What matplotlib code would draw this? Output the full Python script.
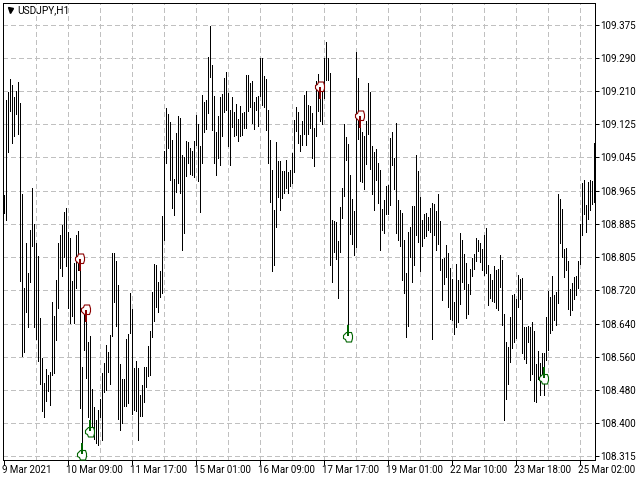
import matplotlib
matplotlib.use("Agg")
import matplotlib.pyplot as plt
from matplotlib.path import Path
from matplotlib.transforms import ScaledTranslation

highs = [
108.956,109.190,109.209,109.241,109.226,109.197,109.212,109.234,109.182,108.959,
108.728,108.839,108.765,108.871,108.974,108.885,108.839,108.807,108.655,108.556,
108.495,108.529,108.515,108.522,108.694,108.660,108.748,108.839,108.858,108.883,
108.915,108.925,108.866,108.851,108.745,108.790,108.858,108.868,108.792,108.534,
108.662,108.650,108.596,108.610,108.480,108.436,108.404,108.429,108.456,108.520,
108.544,108.588,108.571,108.613,108.814,108.814,108.795,108.736,108.542,108.505,
108.505,108.603,108.615,108.716,108.677,108.532,108.549,108.532,108.466,108.490,
108.534,108.534,108.586,108.623,108.718,108.787,108.785,108.743,108.770,108.905,
109.064,109.170,109.155,109.136,109.091,108.996,109.109,109.150,109.145,109.055,
109.050,109.089,109.087,109.072,109.064,109.089,109.153,109.131,109.077,109.202,
109.185,109.190,109.295,109.371,109.276,109.199,109.111,109.150,109.197,109.204,
109.244,109.258,109.207,109.165,109.197,109.160,109.180,109.143,109.175,109.158,
109.160,109.251,109.251,109.231,109.236,109.185,109.197,109.199,109.293,109.293,
109.248,109.241,109.165,109.091,109.018,108.920,109.087,109.040,109.040,109.015,
109.015,109.042,109.013,109.018,109.060,109.141,109.172,109.160,109.104,109.138,
109.202,109.212,109.177,109.175,109.158,109.121,109.236,109.253,109.202,109.226,
109.293,109.332,109.293,109.256,108.895,108.893,108.890,108.844,108.927,108.974,
109.131,109.099,109.082,109.006,108.947,108.917,109.307,109.244,109.153,109.111,
109.101,109.138,109.231,109.209,109.077,109.062,109.069,109.035,109.018,108.922,
108.944,108.979,108.981,109.096,109.111,109.047,109.133,108.944,108.920,108.912,
108.846,108.765,108.866,108.878,108.929,108.929,109.055,109.015,108.952,108.895,
108.910,108.912,108.902,108.925,108.937,108.934,108.917,108.959,108.893,108.799,
108.802,108.834,108.814,108.777,108.750,108.694,108.787,108.748,108.863,108.846,
108.812,108.790,108.738,108.775,108.802,108.812,108.851,108.846,108.839,108.824,
108.858,108.875,108.785,108.763,108.748,108.782,108.772,108.775,108.809,108.797,
108.664,108.596,108.583,108.657,108.711,108.714,108.701,108.760,108.750,108.753,
108.633,108.633,108.635,108.633,108.645,108.623,108.542,108.574,108.544,108.569,
108.569,108.657,108.721,108.706,108.758,108.711,108.718,108.959,108.947,108.922,
108.824,108.826,108.795,108.726,108.740,108.755,108.758,108.795,108.885,108.986,
108.993,108.932,108.988,108.993,108.991,109.084,
]
lows = [
108.912,108.895,109.062,109.163,109.084,109.101,109.155,109.106,108.745,108.561,
108.571,108.669,108.633,108.743,108.831,108.633,108.603,108.549,108.493,108.426,
108.412,108.451,108.475,108.441,108.515,108.520,108.601,108.679,108.777,108.758,
108.804,108.782,108.679,108.642,108.660,108.642,108.728,108.772,108.434,108.343,
108.576,108.507,108.412,108.404,108.372,108.358,108.348,108.343,108.412,108.355,
108.473,108.478,108.522,108.493,108.610,108.694,108.635,108.407,108.380,108.397,
108.439,108.439,108.446,108.618,108.419,108.429,108.426,108.355,108.414,108.414,
108.448,108.485,108.512,108.515,108.608,108.647,108.682,108.669,108.706,108.716,
108.846,109.035,109.072,108.993,108.925,108.907,108.964,108.986,108.961,108.821,
108.863,109.003,109.035,109.008,109.006,109.001,109.079,108.991,108.915,109.035,
109.111,109.118,109.158,109.246,109.116,109.035,109.006,109.047,109.030,109.101,
109.160,109.165,109.077,109.030,109.123,109.101,109.104,109.089,109.101,109.104,
109.121,109.121,109.163,109.172,109.133,109.118,109.165,109.126,109.199,109.177,
109.172,109.116,109.035,108.939,108.770,108.785,108.878,108.952,108.920,108.949,
108.961,108.974,108.961,108.979,108.986,109.013,109.114,109.084,109.064,109.079,
109.106,109.079,109.106,109.121,109.047,109.028,109.101,109.163,109.138,109.131,
109.195,109.239,109.239,108.785,108.743,108.817,108.799,108.704,108.817,108.900,
108.954,109.042,108.637,108.861,108.836,108.809,108.829,109.094,108.991,108.988,
108.971,109.033,109.106,109.020,108.959,108.920,108.993,108.937,108.821,108.871,
108.863,108.910,108.910,108.932,109.030,108.971,108.863,108.846,108.831,108.748,
108.716,108.608,108.635,108.804,108.743,108.785,108.858,108.841,108.770,108.831,
108.851,108.856,108.871,108.866,108.603,108.858,108.821,108.836,108.772,108.699,
108.738,108.755,108.682,108.652,108.650,108.615,108.633,108.645,108.689,108.743,
108.726,108.655,108.664,108.714,108.758,108.775,108.795,108.819,108.792,108.772,
108.760,108.765,108.687,108.704,108.696,108.694,108.679,108.674,108.731,108.637,
108.404,108.456,108.493,108.547,108.581,108.596,108.606,108.682,108.701,108.569,
108.554,108.544,108.596,108.502,108.517,108.451,108.448,108.505,108.466,108.502,
108.466,108.552,108.576,108.618,108.625,108.650,108.637,108.691,108.839,108.804,
108.755,108.772,108.677,108.662,108.674,108.701,108.711,108.728,108.787,108.858,
108.910,108.866,108.898,108.920,108.934,108.939,
]

sell_bars = [38, 41, 158, 178]
sell_prices = [108.793, 108.668, 109.214, 109.144]
buy_bars = [39, 43, 172, 270]
buy_prices = [108.329, 108.386, 108.617, 108.516]

y_ticks = [108.315,108.397,108.478,108.560,108.641,108.723,108.804,
           108.886,108.967,109.049,109.130,109.212,109.294,109.375]
y_labels = ["108.315","108.400","108.480","108.560","108.640","108.720","108.805",
            "108.885","108.965","109.045","109.125","109.210","109.290","109.375"]
x_major = [0, 32, 64, 96, 128, 160, 192, 224, 256, 288]
x_labels = ["9 Mar 2021","10 Mar 09:00","11 Mar 17:00","15 Mar 01:00","16 Mar 09:00",
            "17 Mar 17:00","19 Mar 01:00","22 Mar 10:00","23 Mar 18:00","25 Mar 02:00"]
title = "USDJPY,H1"

W, H = 640, 480
plt.rcParams['font.family'] = ['Roboto']
fig = plt.figure(figsize=(6.4, 4.8), dpi=100, facecolor="white")
ax = fig.add_axes([2.5/W, 1-459.5/H, 592/W, 457/H])
ax.set_xlim(-0.5, 295.5)
ax.set_ylim(108.3076, 109.429)
ax.set_axisbelow(True)

for s in ax.spines.values():
    s.set_linewidth(0.72)
    s.set_color("black")

grid_kw = dict(color="#c0c0c0", lw=0.72, ls=(0, (5, 3.5)), zorder=0, antialiased=False)
for v in y_ticks:
    ax.axhline(v, **grid_kw)
for v in range(16, 295, 16):
    ax.axvline(v, **grid_kw)

bars = ax.vlines(range(len(highs)), lows, highs, colors="black", lw=0.72, zorder=2)
bars.set_antialiased(False)
bars.set_capstyle("butt")

hand_v = [(-4,-1),(-2,1),(3,1),(4,-2),(4,-5),(3,-8.5),(-2,-8.5),(-3,-6),(-5,-5),(-5,-2),(-4,-1)]
stem_v = [(-1,-3),(1,-3),(1,8.5),(-1,8.5),(-1,-3)]
def mk(verts, flip):
    return Path([(x, -y if flip else y) for x, y in verts], closed=True)
ms = 12.24
ax.plot(buy_bars, buy_prices, ls="", marker=mk(hand_v, False), ms=ms, mfc="white", mec="#006400", mew=0.8, zorder=3)
ax.plot(buy_bars, buy_prices, ls="", marker=mk(stem_v, False), ms=ms, mfc="#006400", mec="#006400", mew=0, zorder=4)
ax.plot(sell_bars, sell_prices, ls="", marker=mk(hand_v, True), ms=ms, mfc="white", mec="#8b0000", mew=0.8, zorder=3)
ax.plot(sell_bars, sell_prices, ls="", marker=mk(stem_v, True), ms=ms, mfc="#8b0000", mec="#8b0000", mew=0, zorder=4)

ax.yaxis.tick_right()
ax.set_yticks(y_ticks)
ax.set_yticklabels(y_labels)
ax.tick_params(axis="y", length=3, width=0.72, pad=1.0, labelsize=7.1, colors="black")
ax.set_xticks(x_major)
ax.set_xticklabels(x_labels, ha="left")
ax.tick_params(axis="x", length=3.5, width=0.72, pad=0.6, labelsize=7.0, colors="black")
for lab in ax.get_xticklabels():
    lab.set_transform(lab.get_transform() + ScaledTranslation(-1.0/72, 0, fig.dpi_scale_trans))

ax.plot([0.0127], [0.9825], transform=ax.transAxes, ls="", marker="v", ms=3.6, color="black", zorder=5, clip_on=False)
ax.text(17/W, 1-10/H, title, transform=fig.transFigure, ha="left", va="center", fontsize=7.3, color="black", zorder=5)

fig.savefig("out.png", dpi=100, facecolor="white")
